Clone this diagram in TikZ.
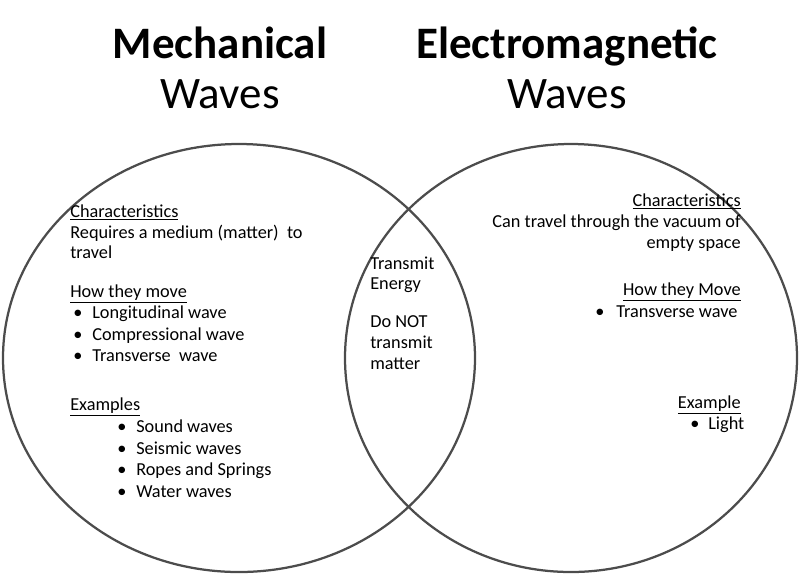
\documentclass[tikz,border=0pt]{standalone}
\usepackage{fontspec}
\setmainfont{Carlito}
\usetikzlibrary{positioning}
\tikzset{
  ring/.style={draw=black!70, line width=1.6pt},
  title/.style={font=\fontsize{32}{34}\selectfont, anchor=base},
  body/.style={font=\fontsize{13}{15}\selectfont, inner sep=0pt},
}
\newcommand*{\head}[1]{\underline{#1}}
\newcommand*{\bul}{\textbullet}
\begin{document}
\begin{tikzpicture}[x=0.025cm,y=-0.025cm]
  \useasboundingbox (0,0) rectangle (800,575);
  % circles
  \draw[ring] (239,358) ellipse [x radius=236, y radius=214];
  \draw[ring] (571,358) ellipse [x radius=226, y radius=214];

  % titles
  \node[title, font=\fontsize{32}{34}\selectfont\bfseries] (mech) at (220,58) {Mechanical};
  \node[title] (mechw) at (220,108) {Waves};
  \node[title, font=\fontsize{32}{34}\selectfont\bfseries] (em) at (567,58) {Electromagnetic};
  \node[title] (emw) at (567,108) {Waves};

  % left side
  \node[body, anchor=base west] (lc) at (70,217) {\head{Characteristics}};
  \node[body, anchor=base west] (lc1) at (70,238) {Requires a medium (matter)\ \ to};
  \node[body, anchor=base west] (lc2) at (70,258) {travel};
  \node[body, anchor=base west] (lm) at (70,297) {\head{How they move}};
  \foreach \t/\y in {Longitudinal wave/318, Compressional wave/340, Transverse\ \ wave/361} {
    \node[body, anchor=base west] at (73,\y) {\bul};
    \node[body, anchor=base west] at (92,\y) {\t};
  }
  \node[body, anchor=base west] (le) at (70,410) {\head{Examples}};
  \foreach \t/\y in {Sound waves/432, Seismic waves/454, Ropes and Springs/475, Water waves/497} {
    \node[body, anchor=base west] at (117,\y) {\bul};
    \node[body, anchor=base west] at (136,\y) {\t};
  }

  % middle
  \foreach \t/\y in {Transmit/269, Energy/289, Do NOT/327, transmit/348, matter/369}
    \node[body, anchor=base west] at (370,\y) {\t};

  % right side
  \node[body, anchor=base east] (rc) at (741,206) {\head{Characteristics}};
  \node[body, anchor=base east] (rc1) at (741,227) {Can travel through the vacuum of};
  \node[body, anchor=base east] (rc2) at (741,248) {empty space};
  \node[body, anchor=base east] (rm) at (741,295) {\head{How they Move}};
  \node[body, anchor=base west] at (595,317) {\bul};
  \node[body, anchor=base west] (rm1) at (616,317) {Transverse wave};
  \node[body, anchor=base east] (re) at (741,408) {\head{Example}};
  \node[body, anchor=base west] at (690,429) {\bul};
  \node[body, anchor=base west] (re1) at (708,429) {Light};
\end{tikzpicture}
\end{document}
